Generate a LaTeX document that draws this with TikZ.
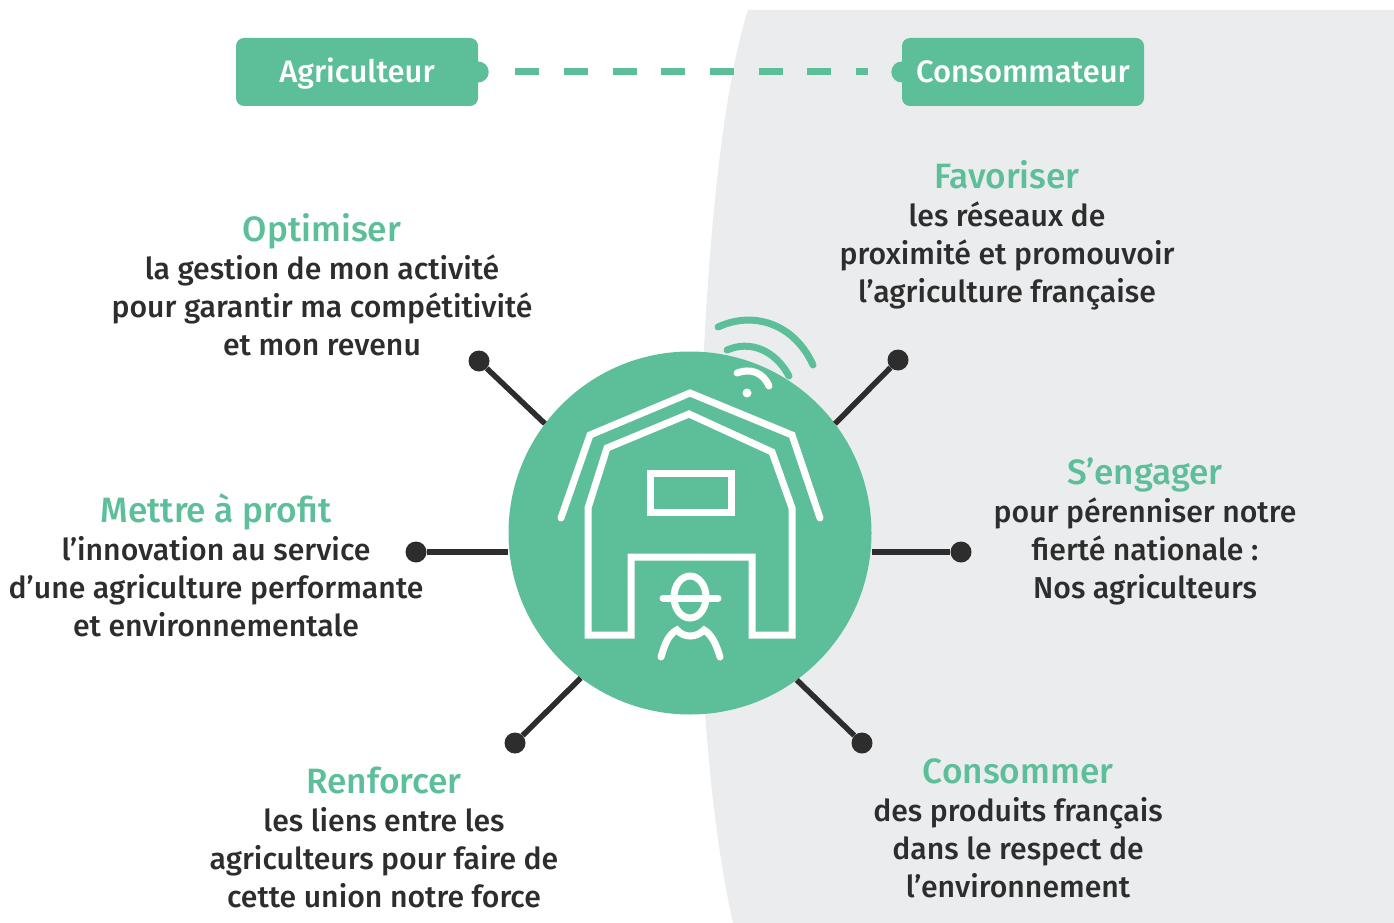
\documentclass[tikz,border=0pt]{standalone}
\usepackage{fontspec}
\setmainfont{Fira Sans}[UprightFont=* Medium]
\definecolor{gr}{HTML}{5CBF9A}
\definecolor{pale}{HTML}{EBECEE}
\definecolor{ink}{HTML}{2D2D2D}
\tikzset{
  x=1pt,y=-1pt,
  tag/.style={fill=gr,rounded corners=8pt,minimum width=242pt,minimum height=68pt,inner sep=0pt,text=white,text height=22pt,text depth=0pt,font=\fontsize{31}{36}\selectfont},
  blurb/.style={align=center,text=ink,font=\fontsize{30.2}{38}\selectfont,inner sep=0pt,anchor=north},
  head/.style={text=gr,font=\fontsize{35.2}{38}\selectfont,inner sep=0pt,anchor=base},
  pin/.style={circle,fill=ink,minimum size=21pt,inner sep=0pt},
  link/.style={draw=ink,line width=5.5pt},
  icon/.style={draw=white,line width=7pt,line join=miter,line cap=round},
  wave/.style={draw=gr,line width=7pt,line cap=round},
}
\begin{document}
\begin{tikzpicture}
\useasboundingbox (0,0) rectangle (1394,923);
\fill[white] (0,0) rectangle (1394,923);
\fill[pale] (748,10) .. controls (716,110) and (700,330) .. (699,530) .. controls (699,690) and (712,830) .. (733,923) -- (1394,923) -- (1394,10) -- cycle;

% boxes
\node[tag] (agri) at (357,72) {Agriculteur};
\node[tag] (cons) at (1023,72) {Consommateur};
\fill[gr] (agri.east) circle[radius=10.5pt];
\fill[gr] (cons.west) circle[radius=10.5pt];
\draw[draw=gr,line width=7pt,dash pattern=on 24pt off 24.7pt,shorten <=37pt,shorten >=34pt] (agri.east) -- (cons.west);

% hub
\node[circle,fill=gr,minimum size=363pt,inner sep=0pt] (hub) at (690,533) {};

% pins
\node[pin] (p1) at (479,361) {};
\node[pin] (p2) at (898,360) {};
\node[pin] (p3) at (416,552) {};
\node[pin] (p4) at (961,552) {};
\node[pin] (p5) at (515,743) {};
\node[pin] (p6) at (862,743) {};
\draw[link] (p1) -- (hub.143);
\draw[link] (p2) -- (hub.37);
\draw[link] (p3) -- (p3 -| hub.west);
\draw[link] (p4) -- (p4 -| hub.east);
\draw[link] (p5) -- (hub.233);
\draw[link] (p6) -- (hub.306.5);

% barn icon
\draw[icon] (561,518) -- (590,435) -- (690,393) -- (792,435) -- (820,518);
\draw[icon,line cap=butt] (588,635) -- (588,508) -- (607,448) -- (689,414) -- (772,452) -- (792,508) -- (792,635) -- (752,635) -- (752,557) -- (631,557) -- (631,635) -- cycle;
\draw[icon] (650,473) rectangle (731,512);
\draw[icon] (690,597) ellipse[x radius=16pt,y radius=21pt];
\draw[icon] (663,598) -- (718,598);
\draw[icon] (661,657) .. controls (665,643) and (669,634) .. (677,630) .. controls (684,638) and (696,638) .. (704,630) .. controls (711,634) and (716,643) .. (720,657);
% wifi
\fill[white] (747,393) circle[radius=4.5pt];
\draw[icon] (737,373) .. controls (750,368) and (763,372) .. (769,386);
\draw[wave] (727,350) .. controls (750,340) and (775,350) .. (789,376);
\draw[wave] (718,327) .. controls (755,310) and (795,325) .. (813,365);

% texts
\node[head] (t1) at (322,241) {Optimiser};
\node[blurb] (b1) at (322,255) {la gestion de mon activité\\pour garantir ma compétitivité\\et mon revenu};
\node[head] (t2) at (1007,188) {Favoriser};
\node[blurb] (b2) at (1007,202) {les réseaux de\\proximité et promouvoir\\l’agriculture française};
\node[head] (t3) at (216,522) {Mettre à profit};
\node[blurb] (b3) at (216,536) {l’innovation au service\\d’une agriculture performante\\et environnementale};
\node[head] (t4) at (1145,484) {S’engager};
\node[blurb] (b4) at (1145,498) {pour pérenniser notre\\fierté nationale :\\Nos agriculteurs};
\node[head] (t5) at (384,793) {Renforcer};
\node[blurb] (b5) at (384,807) {les liens entre les\\agriculteurs pour faire de\\cette union notre force};
\node[head] (t6) at (1018,783) {Consommer};
\node[blurb] (b6) at (1018,797) {des produits français\\dans le respect de\\l’environnement};
\end{tikzpicture}
\end{document}
